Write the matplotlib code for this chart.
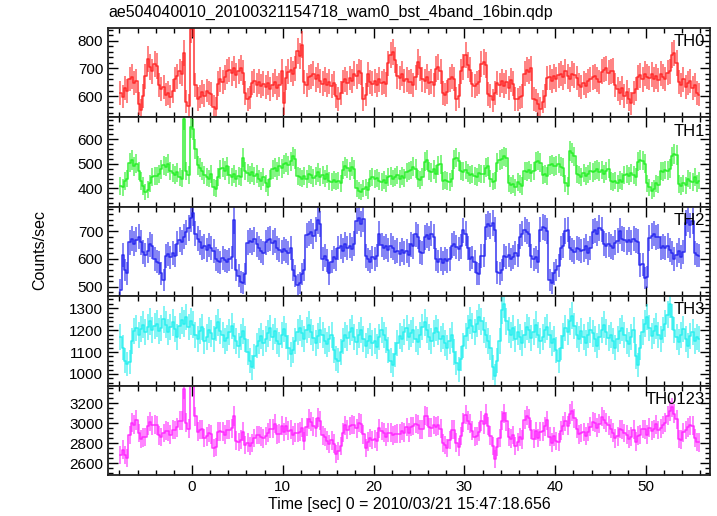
import numpy as np
import matplotlib
matplotlib.use("Agg")
import matplotlib.pyplot as plt
from matplotlib.ticker import MultipleLocator

plt.rcParams['font.family'] = ['Liberation Sans', 'DejaVu Sans']

title = "ae504040010_20100321154718_wam0_bst_4band_16bin.qdp"
xlabel = "Time [sec] 0 = 2010/03/21 15:47:18.656"
ylabel = "Counts/sec"
panel_names = ["TH0", "TH1", "TH2", "TH3", "TH0123"]
colors = ["#ff2020", "#20ee20", "#2020ee", "#20eeee", "#ff20ff"]

t_start = -8.0
bin_width = 0.25

th0 = [
    612, 598, 630, 618, 662, 670, 648, 655, 572, 548, 600, 672, 735, 705, 690, 715,
    708, 640, 625, 632, 605, 612, 598, 618, 660, 672, 690, 680, 755, 580, 565, 842,
    865, 640, 590, 598, 615, 602, 620, 612, 608, 562, 555, 645, 660, 650, 668, 690,
    695, 682, 700, 676, 690, 702, 685, 610, 588, 595, 648, 655, 640, 652, 635, 645,
    632, 648, 626, 640, 652, 630, 640, 690, 575, 665, 688, 695, 680, 700, 762, 745,
    785, 650, 640, 668, 672, 680, 660, 676, 655, 645, 660, 640, 652, 635, 648, 600,
    590, 610, 650, 660, 648, 665, 655, 680, 672, 690, 685, 590, 605, 678, 650, 645,
    655, 640, 660, 648, 652, 642, 718, 748, 760, 730, 672, 665, 680, 655, 660, 650,
    652, 640, 668, 722, 700, 660, 655, 670, 648, 652, 640, 698, 705, 690, 612, 605,
    615, 660, 670, 662, 590, 600, 690, 705, 748, 712, 695, 642, 636, 645, 650, 715,
    722, 712, 608, 600, 585, 612, 648, 640, 655, 638, 650, 630, 658, 645, 590, 588,
    595, 600, 680, 695, 688, 700, 590, 585, 570, 555, 580, 600, 665, 668, 655, 672,
    660, 675, 680, 668, 690, 672, 660, 680, 675, 665, 640, 632, 648, 638, 655, 660,
    668, 672, 660, 650, 688, 695, 700, 685, 690, 692, 640, 625, 612, 628, 600, 615,
    588, 575, 610, 625, 668, 675, 660, 680, 670, 665, 678, 660, 672, 658, 680, 670,
    662, 685, 690, 748, 755, 720, 650, 640, 660, 632, 648, 655, 628, 640, 610, 605,
]

th1 = [
    410, 405, 430, 440, 505, 515, 490, 500, 470, 430, 410, 385, 395, 420, 445, 450,
    452, 460, 478, 495, 488, 500, 470, 462, 455, 465, 448, 440, 682, 470, 455, 648,
    640, 560, 495, 485, 470, 455, 448, 440, 460, 405, 398, 445, 478, 485, 472, 490,
    455, 445, 460, 440, 450, 448, 525, 470, 462, 455, 465, 450, 460, 440, 430, 445,
    420, 405, 440, 478, 485, 470, 490, 482, 498, 505, 495, 510, 530, 520, 450, 445,
    440, 452, 438, 460, 455, 442, 450, 465, 448, 455, 440, 458, 430, 425, 435, 428,
    432, 420, 475, 490, 482, 470, 488, 478, 400, 390, 385, 398, 405, 392, 440, 445,
    438, 442, 430, 425, 435, 420, 445, 450, 440, 448, 455, 438, 450, 442, 465, 470,
    475, 488, 480, 440, 435, 445, 508, 515, 470, 465, 478, 460, 495, 498, 430, 435,
    430, 425, 440, 518, 525, 510, 470, 468, 475, 462, 455, 460, 450, 448, 462, 458,
    458, 485, 490, 440, 428, 432, 505, 515, 520, 530, 525, 420, 412, 418, 405, 425,
    418, 410, 470, 468, 475, 462, 470, 508, 512, 505, 455, 460, 450, 495, 498, 490,
    492, 500, 488, 485, 420, 410, 552, 545, 530, 460, 455, 448, 462, 450, 458, 470,
    465, 472, 478, 468, 475, 460, 470, 480, 430, 425, 432, 420, 435, 428, 455, 460,
    450, 462, 455, 448, 508, 515, 512, 500, 420, 405, 390, 398, 420, 415, 470, 468,
    475, 472, 480, 530, 540, 535, 418, 410, 420, 412, 440, 432, 425, 445, 420, 432,
]

th2 = [
    488, 615, 560, 548, 660, 672, 655, 668, 680, 660, 625, 615, 630, 652, 645, 600,
    590, 585, 548, 525, 610, 618, 605, 622, 612, 655, 668, 660, 680, 695, 712, 745,
    765, 690, 672, 660, 640, 645, 632, 650, 638, 628, 600, 592, 588, 602, 595, 590,
    598, 605, 738, 560, 540, 518, 512, 545, 658, 665, 660, 670, 652, 640, 628, 620,
    660, 668, 672, 658, 665, 640, 632, 625, 635, 628, 622, 640, 560, 538, 505, 515,
    545, 560, 685, 690, 698, 682, 705, 738, 725, 600, 612, 595, 548, 590, 605, 598,
    638, 645, 630, 652, 640, 648, 635, 655, 735, 748, 725, 742, 610, 598, 590, 605,
    600, 612, 690, 650, 638, 645, 632, 648, 640, 625, 630, 618, 632, 620, 628, 615,
    652, 645, 688, 680, 625, 620, 678, 685, 672, 690, 680, 598, 590, 600, 585, 600,
    592, 600, 648, 655, 642, 635, 645, 702, 690, 640, 600, 605, 590, 548, 545, 610,
    612, 715, 725, 718, 730, 705, 552, 548, 560, 612, 605, 615, 598, 608, 620, 612,
    680, 690, 705, 698, 688, 610, 598, 605, 590, 705, 715, 712, 700, 525, 515, 548,
    560, 575, 640, 648, 700, 705, 640, 632, 625, 640, 635, 628, 632, 645, 620, 638,
    698, 702, 690, 710, 705, 655, 648, 652, 645, 640, 658, 665, 700, 672, 668, 660,
    668, 660, 672, 665, 662, 578, 580, 530, 535, 675, 682, 690, 678, 680, 640, 645,
    638, 648, 632, 622, 600, 615, 630, 608, 625, 730, 742, 720, 735, 620, 615, 612,
]

th3 = [
    1170, 1120, 1060, 1045, 1055, 1150, 1195, 1210, 1180, 1205, 1225, 1190, 1215, 1240, 1200, 1220,
    1230, 1195, 1210, 1250, 1225, 1190, 1215, 1235, 1205, 1170, 1220, 1245, 1230, 1260, 1215, 1240,
    1225, 1180, 1160, 1195, 1215, 1150, 1170, 1200, 1185, 1160, 1210, 1235, 1195, 1180, 1150, 1165,
    1190, 1220, 1175, 1150, 1130, 1170, 1195, 1160, 1100, 1060, 1030, 1080, 1130, 1150, 1175, 1140,
    1160, 1185, 1210, 1170, 1195, 1150, 1135, 1180, 1205, 1175, 1120, 1090, 1110, 1150, 1190, 1210,
    1185, 1160, 1200, 1225, 1190, 1165, 1140, 1175, 1200, 1180, 1150, 1135, 1160, 1180, 1110, 1070,
    1060, 1100, 1150, 1180, 1165, 1190, 1210, 1170, 1145, 1180, 1200, 1160, 1130, 1150, 1175, 1140,
    1150, 1125, 1170, 1200, 1180, 1155, 1110, 1060, 1040, 1090, 1140, 1175, 1160, 1190, 1210, 1170,
    1185, 1200, 1160, 1145, 1180, 1215, 1235, 1200, 1170, 1150, 1185, 1210, 1190, 1160, 1175, 1140,
    1120, 1150, 1180, 1100, 1050, 1020, 1070, 1130, 1175, 1210, 1245, 1220, 1190, 1230, 1260, 1240,
    1200, 1180, 1150, 1120, 1030, 990, 1060, 1150, 1290, 1320, 1240, 1200, 1180, 1210, 1160, 1190,
    1170, 1140, 1180, 1215, 1200, 1165, 1190, 1225, 1180, 1150, 1170, 1200, 1215, 1180, 1140, 1160,
    1110, 1060, 1120, 1175, 1210, 1190, 1240, 1265, 1220, 1180, 1160, 1195, 1170, 1140, 1180, 1200,
    1185, 1160, 1130, 1170, 1200, 1225, 1190, 1165, 1180, 1150, 1120, 1160, 1195, 1210, 1180, 1150,
    1135, 1170, 1200, 1080, 1040, 1120, 1190, 1230, 1260, 1210, 1175, 1195, 1220, 1180, 1160, 1200,
    1230, 1270, 1320, 1260, 1200, 1170, 1145, 1180, 1205, 1160, 1130, 1175, 1190, 1150, 1170, 1160,
]

th0123 = [
    2680, 2738, 2680, 2651, 2882, 3007, 2988, 3033, 2902, 2843, 2860, 2862, 2975, 3017, 2980, 2985,
    2980, 2880, 2861, 2902, 2928, 2920, 2888, 2937, 2932, 2962, 3026, 3025, 3347, 3005, 2947, 3475,
    3495, 3070, 2917, 2938, 2940, 2852, 2870, 2902, 2891, 2755, 2763, 2917, 2921, 2917, 2885, 2935,
    2938, 2952, 3073, 2826, 2810, 2838, 2917, 2785, 2808, 2775, 2803, 2855, 2882, 2882, 2868, 2850,
    2872, 2906, 2948, 2946, 2997, 2890, 2897, 2977, 2913, 2973, 2925, 2935, 2880, 2908, 2907, 2915,
    2955, 2822, 2963, 3043, 3015, 2969, 2955, 3054, 3028, 2880, 2862, 2828, 2790, 2830, 2798, 2696,
    2720, 2775, 2905, 2982, 2935, 2973, 2988, 2983, 2952, 3008, 2995, 2890, 2750, 2818, 2855, 2835,
    2843, 2819, 2950, 2923, 2905, 2862, 2905, 2906, 2880, 2893, 2897, 2896, 2922, 2907, 2963, 2905,
    2964, 2973, 2996, 2987, 2940, 2940, 3076, 3070, 2960, 2957, 2983, 2966, 2980, 2948, 2802, 2780,
    2757, 2835, 2938, 2935, 2807, 2765, 2875, 3005, 3088, 3024, 2995, 2927, 2866, 2871, 2917, 3023,
    2992, 3092, 2973, 2878, 2773, 2640, 2765, 2853, 3025, 3100, 3020, 2865, 2848, 2881, 2775, 2815,
    2863, 2840, 3035, 3076, 3051, 2937, 2848, 2923, 2852, 2915, 2920, 2972, 3030, 2868, 2808, 2870,
    2822, 2810, 2928, 2976, 3020, 2977, 3092, 3122, 3050, 2945, 2890, 2903, 2912, 2873, 2913, 2968,
    3016, 3006, 2958, 2998, 3068, 3035, 3008, 2982, 2945, 2907, 2850, 2870, 2942, 2938, 2903, 2885,
    2841, 2867, 2937, 2818, 2878, 2888, 2942, 2940, 2885, 2955, 2925, 2943, 2990, 2933, 2950, 2983,
    3005, 3075, 3122, 3160, 3095, 3040, 2843, 2838, 2910, 2934, 2960, 2982, 2978, 2855, 2815, 2809,
]

series = [th0, th1, th2, th3, th0123]
ylims = [(523, 846), (325, 689), (466, 787), (947, 1355), (2483, 3377)]
ymajor = [100, 100, 100, 100, 200]
yminor = [20, 20, 20, 20, 50]

W, H = 717, 516
fig = plt.figure(figsize=(W / 100, H / 100), dpi=100)

left_px, right_px = 108, 710
top_px, bot_px = 28, 475
ph = (bot_px - top_px) / 5.0

axes = []
for k in range(5):
    y_top = top_px + k * ph
    ax = fig.add_axes([left_px / W, 1 - (y_top + ph) / H,
                       (right_px - left_px) / W, ph / H])
    axes.append(ax)

for k, (ax, vals) in enumerate(zip(axes, series)):
    y = np.array(vals, dtype=float)
    t = t_start + bin_width * (np.arange(len(y)) + 0.5)
    err = np.sqrt(y * 3.0)
    ax.errorbar(t, y, yerr=err, fmt='none',
                ecolor=colors[k], elinewidth=1.3, alpha=0.6, capsize=0)
    ax.step(t, y, where='mid', color=colors[k], linewidth=1.1, alpha=0.9)
    ax.set_xlim(-9.25, 57.05)
    ax.set_ylim(*ylims[k])
    ax.xaxis.set_major_locator(MultipleLocator(10))
    ax.xaxis.set_minor_locator(MultipleLocator(2))
    ax.yaxis.set_major_locator(MultipleLocator(ymajor[k]))
    ax.yaxis.set_minor_locator(MultipleLocator(yminor[k]))
    ax.tick_params(which='both', direction='in', top=True, right=True,
                   labelsize=11, width=1.0)
    ax.tick_params(which='major', length=7)
    ax.tick_params(which='minor', length=3.5)
    for sp in ax.spines.values():
        sp.set_linewidth(1.3)
        sp.set_color('#222222')
    if k < 4:
        ax.tick_params(labelbottom=False)
    ax.text(0.992, 0.93, panel_names[k], transform=ax.transAxes,
            ha='right', va='top', fontsize=12)

axes[-1].set_xlabel(xlabel, fontsize=11.5, labelpad=2)
fig.text(left_px / W, 1 - 12 / H, title, ha='left', va='center', fontsize=11.5)
fig.text(40 / W, 1 - 250 / H, ylabel, ha='center', va='center',
         rotation=90, fontsize=11.5)

fig.savefig("out.png", dpi=100)
